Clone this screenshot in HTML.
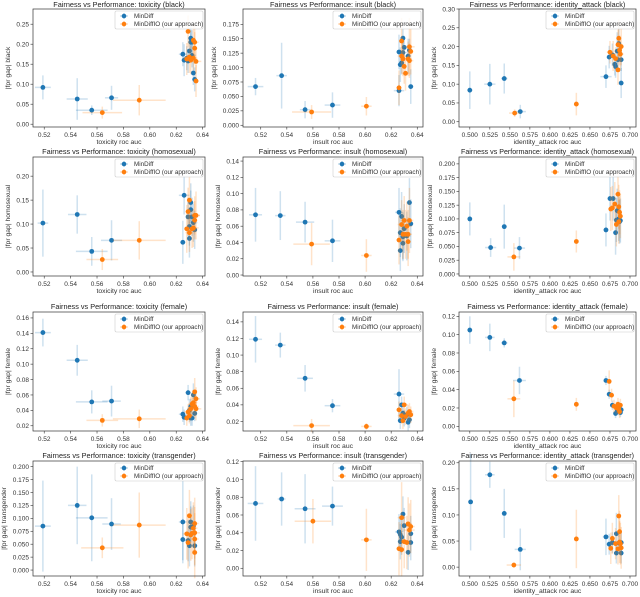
<!DOCTYPE html>
<html><head><meta charset="utf-8"><style>
html,body{margin:0;padding:0;background:#fff;}
svg{display:block;font-family:"Liberation Sans","DejaVu Sans",sans-serif;}
</style></head><body>
<svg id="fig" width="640" height="597" viewBox="0 0 640 597" xmlns="http://www.w3.org/2000/svg"></svg>
<script>
const metrics = ["toxicity","insult","identity_attack"];
const groups = ["black","homosexual","female","transgender"];
const seriesNames = ["MinDiff","MinDiffIO (our approach)"];
const colors = ["#1f77b4","#ff7f0e"];
const xTicksTI = [0.52,0.54,0.56,0.58,0.60,0.62,0.64];
const xTicksIA = [0.500,0.525,0.550,0.575,0.600,0.625,0.650,0.675,0.700];
const yTicks = [
 [[0,0.05,0.10,0.15,0.20,0.25],[0,0.025,0.05,0.075,0.10,0.125,0.15,0.175],[0,0.05,0.10,0.15,0.20,0.25,0.30]],
 [[0,0.05,0.10,0.15,0.20],[0,0.02,0.04,0.06,0.08,0.10,0.12,0.14],[0,0.025,0.05,0.075,0.10,0.125,0.15,0.175,0.20]],
 [[0.02,0.04,0.06,0.08,0.10,0.12,0.14,0.16],[0.02,0.04,0.06,0.08,0.10,0.12,0.14],[0,0.02,0.04,0.06,0.08,0.10,0.12]],
 [[0,0.025,0.05,0.075,0.10,0.125,0.15,0.175,0.20],[0,0.02,0.04,0.06,0.08,0.10,0.12],[0,0.05,0.10,0.15,0.20]]
];
const yDec = [[2,3,2],[2,2,3],[2,2,2],[3,2,2]];
const yDomains = [
 [[-0.007,0.288],[-0.003,0.2015],[-0.014,0.30]],
 [[-0.0084,0.240],[-0.0012,0.145],[-0.0037,0.2125]],
 [[0.0132,0.1677],[0.0085,0.1519],[-0.0051,0.1247]],
 [[-0.0115,0.2109],[-0.0087,0.1208],[-0.017,0.2034]]
];
const xDomains = [[0.5115,0.6418],[0.5064,0.6444],[0.4865,0.7075]];
// points: [x, y, xerr, yerr]
const minDiff = [
 [
  [[0.519,0.092,0.006,0.03],[0.545,0.063,0.008,0.052],[0.556,0.035,0.012,0.012],[0.571,0.066,0.005,0.03],[0.625,0.175,0.003,0.03],[0.626,0.16,0.002,0.04],[0.629,0.158,0.002,0.03],[0.630,0.183,0.002,0.03],[0.631,0.205,0.002,0.03],[0.631,0.215,0.002,0.03],[0.632,0.205,0.002,0.03],[0.632,0.172,0.003,0.03],[0.633,0.128,0.002,0.03],[0.634,0.112,0.002,0.03],[0.628,0.165,0.002,0.03]],
  [[0.516,0.067,0.006,0.015],[0.536,0.086,0.004,0.057],[0.554,0.027,0.004,0.015],[0.575,0.035,0.006,0.022],[0.626,0.06,0.004,0.027],[0.626,0.127,0.002,0.03],[0.627,0.105,0.002,0.03],[0.628,0.108,0.002,0.02],[0.629,0.151,0.002,0.02],[0.629,0.126,0.003,0.02],[0.630,0.135,0.002,0.02],[0.633,0.12,0.002,0.03],[0.634,0.13,0.002,0.02],[0.635,0.067,0.002,0.03]],
  [[0.500,0.084,0.003,0.05],[0.525,0.1,0.007,0.054],[0.543,0.115,0.004,0.04],[0.563,0.027,0.007,0.018],[0.670,0.12,0.007,0.03],[0.674,0.172,0.003,0.03],[0.678,0.178,0.004,0.03],[0.681,0.153,0.002,0.03],[0.682,0.147,0.002,0.03],[0.684,0.188,0.003,0.05],[0.685,0.165,0.003,0.03],[0.686,0.208,0.002,0.05],[0.689,0.165,0.003,0.03],[0.689,0.103,0.003,0.04]]
 ],
 [
  [[0.519,0.102,0.004,0.07],[0.545,0.12,0.007,0.04],[0.556,0.043,0.012,0.03],[0.571,0.066,0.008,0.042],[0.625,0.062,0.002,0.045],[0.626,0.16,0.004,0.04],[0.629,0.115,0.002,0.04],[0.630,0.095,0.002,0.04],[0.630,0.07,0.002,0.04],[0.631,0.145,0.002,0.04],[0.631,0.13,0.002,0.04],[0.632,0.115,0.002,0.04],[0.633,0.103,0.003,0.04],[0.634,0.088,0.002,0.04]],
  [[0.516,0.074,0.005,0.033],[0.535,0.073,0.004,0.03],[0.554,0.065,0.007,0.025],[0.575,0.042,0.006,0.026],[0.626,0.077,0.003,0.03],[0.627,0.052,0.002,0.03],[0.627,0.03,0.002,0.025],[0.628,0.072,0.002,0.03],[0.629,0.047,0.002,0.03],[0.629,0.039,0.002,0.02],[0.630,0.057,0.002,0.03],[0.632,0.048,0.003,0.03],[0.634,0.089,0.002,0.03],[0.635,0.063,0.002,0.03]],
  [[0.500,0.1,0.002,0.03],[0.526,0.048,0.007,0.017],[0.543,0.086,0.003,0.04],[0.562,0.047,0.007,0.02],[0.670,0.08,0.003,0.03],[0.675,0.137,0.003,0.04],[0.679,0.137,0.002,0.04],[0.682,0.075,0.002,0.04],[0.683,0.098,0.003,0.04],[0.684,0.115,0.002,0.04],[0.686,0.1,0.003,0.04],[0.687,0.095,0.002,0.04],[0.688,0.097,0.002,0.04]]
 ],
 [
  [[0.519,0.141,0.006,0.018],[0.545,0.105,0.008,0.02],[0.556,0.051,0.012,0.015],[0.571,0.052,0.007,0.02],[0.625,0.035,0.003,0.01],[0.626,0.031,0.002,0.01],[0.629,0.063,0.002,0.01],[0.630,0.04,0.002,0.015],[0.631,0.045,0.002,0.01],[0.631,0.03,0.002,0.01],[0.632,0.03,0.002,0.01],[0.633,0.06,0.002,0.015],[0.634,0.036,0.002,0.01]],
  [[0.516,0.119,0.005,0.028],[0.535,0.112,0.004,0.015],[0.554,0.072,0.006,0.016],[0.575,0.039,0.006,0.008],[0.626,0.053,0.004,0.03],[0.627,0.021,0.002,0.01],[0.628,0.04,0.002,0.01],[0.629,0.03,0.002,0.01],[0.630,0.024,0.002,0.01],[0.632,0.028,0.002,0.01],[0.633,0.019,0.002,0.01],[0.634,0.022,0.002,0.01]],
  [[0.500,0.105,0.002,0.015],[0.525,0.097,0.006,0.015],[0.543,0.091,0.004,0.005],[0.562,0.05,0.008,0.015],[0.670,0.05,0.003,0.005],[0.674,0.035,0.002,0.005],[0.678,0.023,0.002,0.005],[0.682,0.014,0.002,0.005],[0.684,0.018,0.002,0.005],[0.686,0.022,0.002,0.005],[0.688,0.015,0.002,0.005],[0.689,0.018,0.002,0.005]]
 ],
 [
  [[0.519,0.085,0.006,0.088],[0.545,0.125,0.007,0.075],[0.556,0.101,0.012,0.084],[0.571,0.089,0.007,0.05],[0.625,0.059,0.002,0.04],[0.625,0.093,0.003,0.08],[0.629,0.057,0.002,0.04],[0.630,0.047,0.002,0.04],[0.631,0.093,0.002,0.04],[0.631,0.083,0.002,0.04],[0.633,0.085,0.002,0.04],[0.634,0.047,0.002,0.04]],
  [[0.516,0.073,0.006,0.042],[0.536,0.078,0.003,0.03],[0.554,0.067,0.008,0.039],[0.575,0.07,0.008,0.022],[0.626,0.041,0.003,0.02],[0.627,0.038,0.002,0.02],[0.627,0.03,0.002,0.02],[0.628,0.035,0.002,0.02],[0.629,0.061,0.002,0.02],[0.630,0.048,0.002,0.02],[0.633,0.018,0.002,0.02],[0.635,0.039,0.002,0.02],[0.635,0.029,0.002,0.02]],
  [[0.501,0.125,0.002,0.093],[0.525,0.177,0.006,0.025],[0.543,0.103,0.003,0.047],[0.563,0.034,0.007,0.04],[0.670,0.058,0.004,0.035],[0.674,0.044,0.003,0.02],[0.678,0.047,0.003,0.02],[0.683,0.064,0.002,0.04],[0.683,0.027,0.002,0.02],[0.686,0.046,0.002,0.02],[0.689,0.047,0.003,0.02],[0.689,0.027,0.003,0.02]]
 ]
];
const minDiffIO = [
 [
  [[0.564,0.029,0.015,0.015],[0.592,0.06,0.02,0.038],[0.629,0.232,0.002,0.04],[0.628,0.163,0.003,0.04],[0.630,0.168,0.003,0.04],[0.631,0.16,0.004,0.035],[0.633,0.21,0.002,0.04],[0.634,0.205,0.003,0.04],[0.634,0.19,0.002,0.04],[0.635,0.157,0.004,0.03],[0.635,0.108,0.002,0.04],[0.633,0.165,0.003,0.03]],
  [[0.559,0.023,0.015,0.012],[0.601,0.033,0.004,0.016],[0.626,0.065,0.002,0.03],[0.628,0.146,0.002,0.04],[0.628,0.12,0.003,0.03],[0.629,0.115,0.002,0.03],[0.630,0.102,0.002,0.03],[0.631,0.09,0.003,0.03],[0.633,0.115,0.003,0.03],[0.634,0.136,0.004,0.05],[0.635,0.128,0.002,0.04],[0.634,0.112,0.003,0.03]],
  [[0.556,0.023,0.007,0.01],[0.633,0.047,0.002,0.03],[0.675,0.185,0.004,0.03],[0.679,0.175,0.003,0.04],[0.682,0.168,0.003,0.03],[0.685,0.138,0.002,0.04],[0.686,0.222,0.003,0.05],[0.687,0.19,0.003,0.04],[0.688,0.18,0.004,0.04],[0.689,0.2,0.003,0.05],[0.685,0.205,0.002,0.04]]
 ],
 [
  [[0.564,0.026,0.012,0.022],[0.592,0.066,0.02,0.04],[0.628,0.09,0.002,0.05],[0.629,0.126,0.002,0.05],[0.630,0.15,0.002,0.05],[0.630,0.082,0.003,0.04],[0.632,0.09,0.003,0.04],[0.634,0.118,0.004,0.04],[0.634,0.108,0.002,0.04],[0.633,0.092,0.004,0.04],[0.635,0.118,0.003,0.05]],
  [[0.559,0.038,0.014,0.026],[0.601,0.024,0.004,0.02],[0.626,0.043,0.002,0.03],[0.628,0.062,0.003,0.03],[0.629,0.05,0.002,0.03],[0.630,0.067,0.003,0.03],[0.631,0.05,0.003,0.03],[0.632,0.06,0.004,0.03],[0.633,0.041,0.002,0.03],[0.634,0.067,0.003,0.04],[0.633,0.05,0.003,0.03]],
  [[0.555,0.031,0.008,0.025],[0.633,0.059,0.001,0.02],[0.676,0.118,0.002,0.04],[0.678,0.12,0.003,0.04],[0.681,0.127,0.002,0.04],[0.683,0.09,0.003,0.04],[0.685,0.145,0.003,0.04],[0.686,0.122,0.002,0.04],[0.687,0.112,0.003,0.04],[0.688,0.105,0.002,0.04],[0.686,0.095,0.003,0.04]]
 ],
 [
  [[0.564,0.027,0.012,0.008],[0.592,0.029,0.02,0.012],[0.628,0.03,0.002,0.01],[0.629,0.038,0.003,0.01],[0.630,0.033,0.003,0.01],[0.631,0.042,0.002,0.015],[0.632,0.048,0.003,0.015],[0.633,0.05,0.003,0.015],[0.634,0.064,0.002,0.018],[0.635,0.055,0.003,0.015],[0.635,0.042,0.004,0.015],[0.634,0.045,0.003,0.015]],
  [[0.559,0.015,0.014,0.008],[0.601,0.014,0.004,0.004],[0.626,0.034,0.002,0.01],[0.628,0.027,0.003,0.01],[0.629,0.021,0.002,0.01],[0.630,0.04,0.003,0.01],[0.631,0.026,0.003,0.01],[0.633,0.03,0.004,0.01],[0.634,0.032,0.003,0.01],[0.635,0.028,0.002,0.01]],
  [[0.555,0.03,0.008,0.02],[0.633,0.024,0.001,0.007],[0.674,0.049,0.002,0.012],[0.677,0.034,0.002,0.007],[0.680,0.022,0.003,0.007],[0.683,0.02,0.003,0.007],[0.685,0.024,0.002,0.007],[0.686,0.019,0.003,0.007],[0.688,0.023,0.002,0.007],[0.687,0.016,0.003,0.007]]
 ],
 [
  [[0.564,0.043,0.016,0.02],[0.592,0.087,0.02,0.063],[0.628,0.07,0.003,0.05],[0.629,0.053,0.002,0.05],[0.630,0.105,0.002,0.05],[0.631,0.068,0.004,0.05],[0.632,0.071,0.003,0.05],[0.633,0.081,0.003,0.05],[0.634,0.09,0.003,0.05],[0.634,0.072,0.004,0.05],[0.634,0.06,0.003,0.05],[0.634,0.034,0.002,0.05]],
  [[0.560,0.053,0.014,0.025],[0.601,0.032,0.004,0.035],[0.626,0.022,0.002,0.03],[0.628,0.057,0.003,0.04],[0.628,0.021,0.002,0.03],[0.630,0.03,0.003,0.03],[0.632,0.029,0.003,0.03],[0.633,0.05,0.003,0.03],[0.634,0.043,0.004,0.03],[0.635,0.047,0.003,0.03]],
  [[0.555,0.004,0.009,0.004],[0.633,0.054,0.001,0.056],[0.676,0.036,0.002,0.03],[0.678,0.055,0.002,0.03],[0.682,0.045,0.003,0.03],[0.685,0.035,0.002,0.03],[0.686,0.098,0.002,0.04],[0.687,0.068,0.003,0.04],[0.688,0.045,0.003,0.04],[0.689,0.037,0.003,0.04],[0.687,0.048,0.002,0.04]]
 ]
];

const NS = "http://www.w3.org/2000/svg";
const fig = document.getElementById("fig");
const rowTop = [9,157,312,461], rowBot = [127,276,431,576];
const colL = [33,243,459], colR = [205,423,636];
function mk(tag, attrs, parent, text){
  const e = document.createElementNS(NS, tag);
  for (const k in attrs) e.setAttribute(k, attrs[k]);
  if (text !== undefined) e.textContent = text;
  parent.appendChild(e); return e;
}
for (let r=0;r<4;r++) for (let c=0;c<3;c++){
  const L=colL[c], R=colR[c], T=rowTop[r], B=rowBot[r];
  const xd=xDomains[c], yd=yDomains[r][c];
  const sx=v=>L+(v-xd[0])/(xd[1]-xd[0])*(R-L);
  const sy=v=>B-(v-yd[0])/(yd[1]-yd[0])*(B-T);
  const g = mk("g",{},fig);
  
  
  const title = "Fairness vs Performance: "+metrics[c]+" ("+groups[r]+")";
  const t = mk("text",{x:(L+R)/2,y:Math.max(T-3,7),"text-anchor":"middle","font-size":"7.3",fill:"#222"},g,title);
  
  
  const tw = t.getComputedTextLength ? t.getComputedTextLength() : 0;
  if (tw > (R-L)-2) { t.setAttribute('textLength', (R-L)-4); t.setAttribute('lengthAdjust','spacingAndGlyphs'); }
  const xt = c===2 ? xTicksIA : xTicksTI;
  xt.forEach(v=>{
    const x=sx(v);
    mk("line",{x1:x,x2:x,y1:B,y2:B+2.5,stroke:"#333","stroke-width":0.6},g);
    const tl = mk("text",{x:x,y:B+10,"text-anchor":"middle","font-size":"6.5",fill:"#333"},g,v.toFixed(c===2?3:2));
    
    
  });
  yTicks[r][c].forEach(v=>{
    const y=sy(v);
    mk("line",{x1:L-2.5,x2:L,y1:y,y2:y,stroke:"#333","stroke-width":0.6},g);
    const tl = mk("text",{x:L-4,y:y+2.3,"text-anchor":"end","font-size":"6.5",fill:"#333"},g,v.toFixed(yDec[r][c]));
    
    
  });
  const xl = mk("text",{x:(L+R)/2,y:B+17,"text-anchor":"middle","font-size":"6.8",fill:"#333"},g,metrics[c]+" roc auc");
  
  
  const ylx = L - (yDec[r][c]===3?27:23);
  const yl = mk("text",{x:ylx,y:(T+B)/2,"text-anchor":"middle","font-size":"6.8",fill:"#333",transform:"rotate(-90 "+ylx+" "+((T+B)/2)+")"},g,"|fpr gap| "+groups[r]);
  
  
  [minDiff[r][c], minDiffIO[r][c]].forEach((pts,si)=>{
    const sg = mk("g",{},g);
    
    
    pts.forEach(p=>{
      mk("line",{x1:sx(p[0]-p[2]),x2:sx(p[0]+p[2]),y1:sy(p[1]),y2:sy(p[1]),stroke:colors[si],"stroke-opacity":0.22,"stroke-width":1.5},sg);
      mk("line",{x1:sx(p[0]),x2:sx(p[0]),y1:sy(p[1]-p[3]),y2:sy(p[1]+p[3]),stroke:colors[si],"stroke-opacity":0.22,"stroke-width":1.5},sg);
    });
    pts.forEach(p=>{
      const d = mk("circle",{cx:sx(p[0]),cy:sy(p[1]),r:2.4,fill:colors[si]},sg);
      
      
    });
  });
  mk("rect",{x:L,y:T,width:R-L,height:B-T,fill:"none",stroke:"#333","stroke-width":0.7},g);
  const lw=88, lh=18, lx=R-lw-2, ly=T+2;
  const lg = mk("g",{},g);
  
  
  mk("rect",{x:lx,y:ly,width:lw,height:lh,fill:"#fff","fill-opacity":0.85,stroke:"#ccc","stroke-width":0.6,rx:1.5},lg);
  seriesNames.forEach((n,i)=>{
    const yy=ly+5+i*8;
    mk("line",{x1:lx+5,x2:lx+13,y1:yy,y2:yy,stroke:colors[i],"stroke-opacity":0.25,"stroke-width":1.5},lg);
    mk("line",{x1:lx+9,x2:lx+9,y1:yy-3,y2:yy+3,stroke:colors[i],"stroke-opacity":0.25,"stroke-width":1.5},lg);
    mk("circle",{cx:lx+9,cy:yy,r:2.3,fill:colors[i]},lg);
    const le = mk("text",{x:lx+19,y:yy+2.2,"font-size":"6.3",fill:"#333"},lg,n);
    
    
  });
}
</script>
</body></html>
